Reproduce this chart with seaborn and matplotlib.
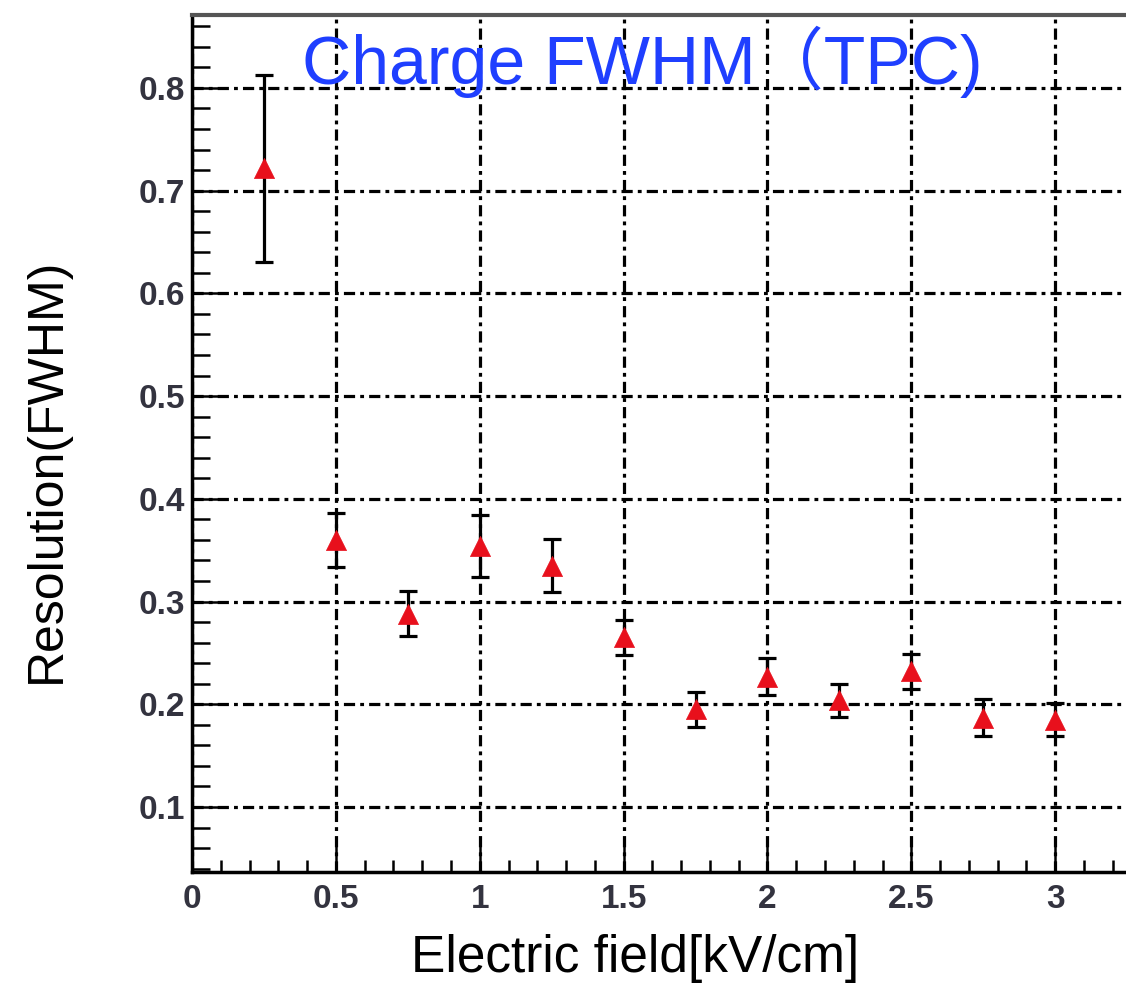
import numpy as np
import pandas as pd
import matplotlib
matplotlib.use("Agg")
import matplotlib.pyplot as plt
import seaborn as sns
from matplotlib.ticker import MultipleLocator

# ---- data ----
field = [0.25, 0.5, 0.75, 1.0, 1.25, 1.5, 1.75, 2.0, 2.25, 2.5, 2.75, 3.0]
resolution = [0.722, 0.360, 0.288, 0.354, 0.335, 0.265, 0.195, 0.227, 0.204, 0.232, 0.187, 0.185]
error = [0.091, 0.026, 0.022, 0.030, 0.026, 0.017, 0.017, 0.018, 0.016, 0.017, 0.018, 0.016]
x_ticks = [0, 0.5, 1, 1.5, 2, 2.5, 3]
x_tick_labels = ["0", "0.5", "1", "1.5", "2", "2.5", "3"]
y_ticks = [0.1, 0.2, 0.3, 0.4, 0.5, 0.6, 0.7, 0.8]
y_tick_labels = ["0.1", "0.2", "0.3", "0.4", "0.5", "0.6", "0.7", "0.8"]
title = "Charge FWHM（TPC)"
xlabel = "Electric field[kV/cm]"
ylabel = "Resolution(FWHM)"

df = pd.DataFrame({"field": field, "resolution": resolution, "error": error})

sns.set_theme(style="white")
plt.rcParams['font.family'] = ['Liberation Sans', 'Noto Sans CJK JP', 'DejaVu Sans']

W, H = 1126, 983
fig = plt.figure(figsize=(W / 100, H / 100), dpi=100)
fig.patch.set_facecolor("white")

left = 192 / W
bottom = (H - 872) / H
top = (H - 15) / H
ax = fig.add_axes([left, bottom, 1.0 - left, top - bottom])
ax.set_facecolor("white")

ax.set_xlim(0, 3.246)
ax.set_ylim(0.0367, 0.871)

# grid (dash-dot)
ax.set_axisbelow(True)
ax.grid(True, which="major", color="black", linewidth=2.3,
        linestyle=(0, (3.5, 1.6, 1.2, 1.6)))

# error bars
ax.errorbar(df["field"], df["resolution"], yerr=df["error"], fmt="none",
            ecolor="black", elinewidth=2.3, capsize=6.5, capthick=2.3, zorder=3)
# markers
sns.scatterplot(data=df, x="field", y="resolution", marker="^", s=210,
                color="#e8101c", edgecolor="#e8101c", linewidth=0.5,
                ax=ax, zorder=4, legend=False)

ax.set_xticks(x_ticks)
ax.set_xticklabels(x_tick_labels)
ax.set_yticks(y_ticks)
ax.set_yticklabels(y_tick_labels)
ax.xaxis.set_minor_locator(MultipleLocator(0.1))
ax.yaxis.set_minor_locator(MultipleLocator(0.02))

ax.tick_params(axis="x", which="major", direction="in", length=25, width=1.8,
               color="black", bottom=True, top=False, pad=9)
ax.tick_params(axis="x", which="minor", direction="in", length=9, width=1.8,
               color="black", bottom=True, top=False)
ax.tick_params(axis="y", which="major", direction="in", length=22, width=1.8,
               color="black", left=True, right=False, pad=5)
ax.tick_params(axis="y", which="minor", direction="in", length=13, width=1.8,
               color="black", left=True, right=False)

for lbl in ax.get_xticklabels() + ax.get_yticklabels():
    lbl.set_fontsize(24)
    lbl.set_fontweight("bold")
    lbl.set_color("#33333f")

for side in ["left", "bottom"]:
    ax.spines[side].set_color("black")
    ax.spines[side].set_linewidth(2.5)
ax.spines["top"].set_color("#555555")
ax.spines["top"].set_linewidth(3)
ax.spines["right"].set_visible(False)

ax.set_xlabel("")
ax.set_ylabel("")

fig.text(642 / W, 1 - 84 / H, title, color="#1f3fff", fontsize=49,
         ha="center", va="baseline",
         family=['Liberation Sans', 'Noto Sans CJK JP'])
fig.text(635 / W, 1 - 972 / H, xlabel, color="black", fontsize=37,
         ha="center", va="baseline")
fig.text(47 / W, 1 - 470 / H, ylabel, color="black", fontsize=36,
         ha="center", va="center", rotation=90)

fig.savefig("out.png", dpi=100, facecolor="white")
